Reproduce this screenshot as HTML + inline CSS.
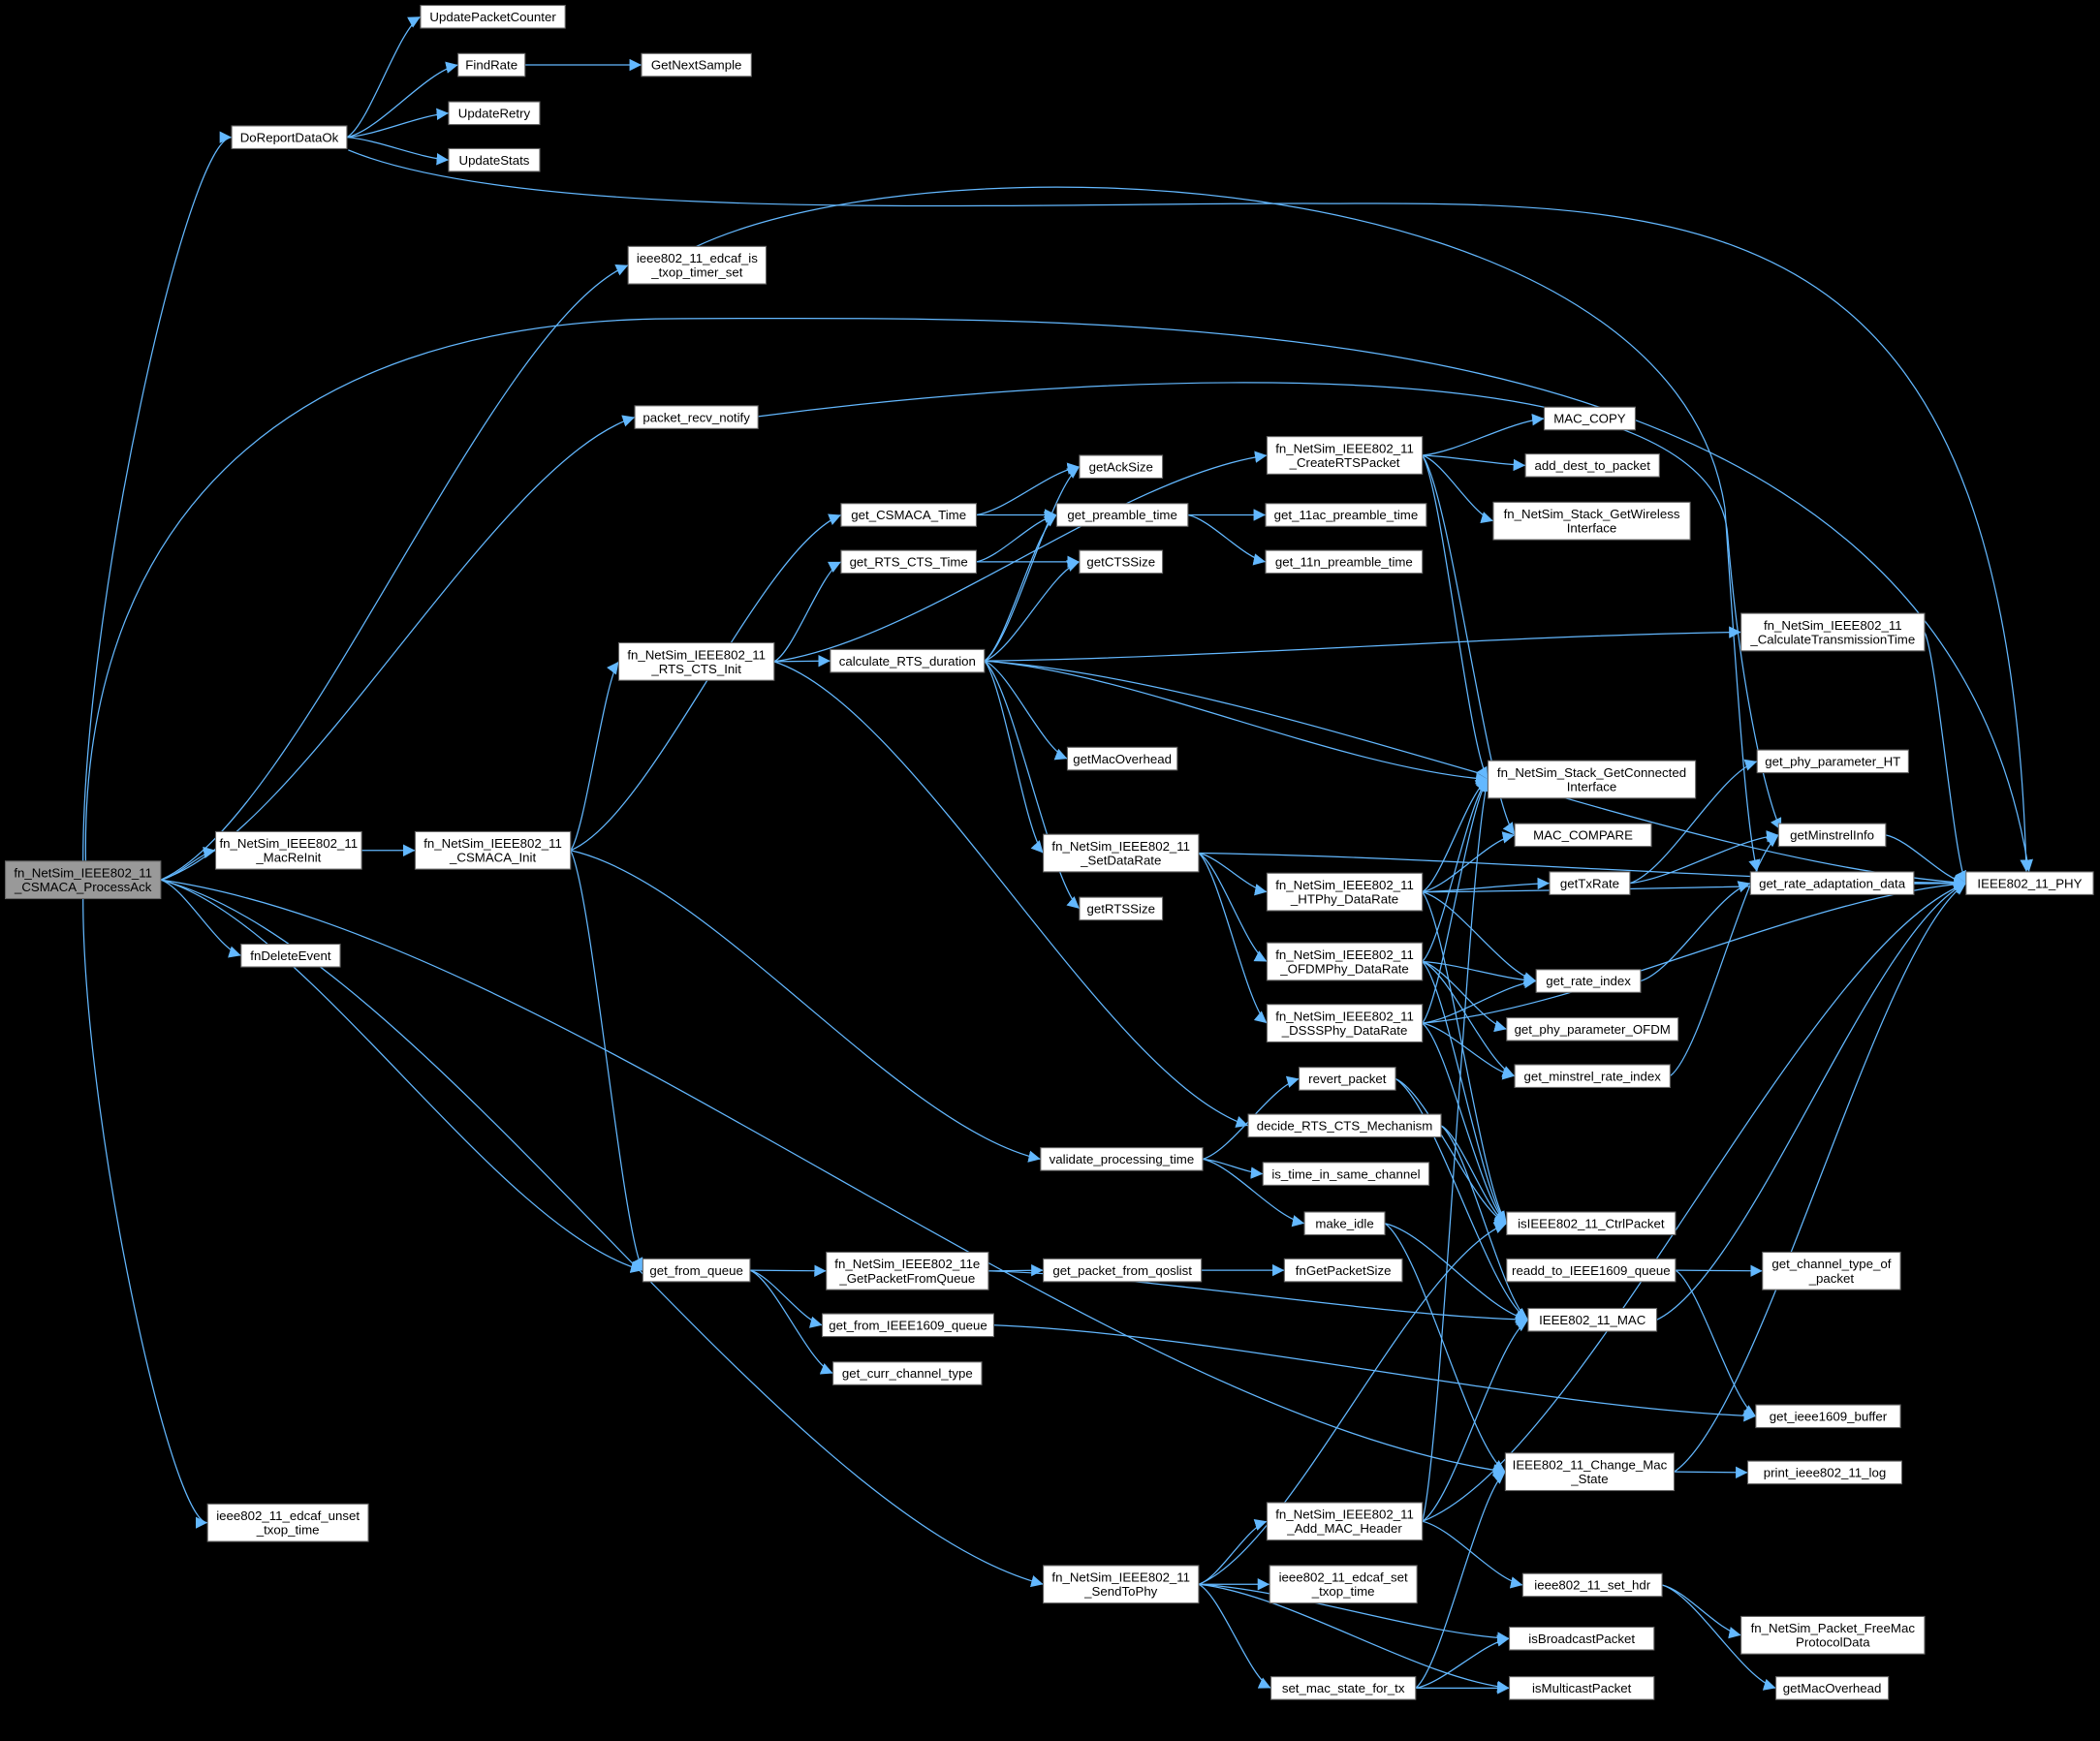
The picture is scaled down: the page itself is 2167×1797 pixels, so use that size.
<!DOCTYPE html>
<html><head><meta charset="utf-8"><style>
html,body{margin:0;padding:0;background:#000;width:2167px;height:1797px;overflow:hidden}
svg{display:block}
text{font-family:"Liberation Sans",sans-serif;font-size:9.6px;fill:#000;text-anchor:middle}
</style></head><body>
<svg id="g" width="2167" height="1797" viewBox="0 0 1568 1300" preserveAspectRatio="none" xmlns="http://www.w3.org/2000/svg">
<defs><marker id="a" viewBox="0 0 10 10" refX="10" refY="5" markerWidth="9" markerHeight="9" markerUnits="userSpaceOnUse" orient="auto"><path d="M0,0L10,5L0,10z" fill="#63b8ff"/></marker></defs>
<g id="E" fill="none" stroke="#63b8ff" stroke-width="0.9"></g>
<g id="N"></g>
</svg>
<script>
var N={
root:[4,643,116,28,"fn_NetSim_IEEE802_11|_CSMACA_ProcessAck",1],
upc:[314,4,108,17,"UpdatePacketCounter"],
fr:[342,40,50,17,"FindRate"],
gns:[479,40,82,17,"GetNextSample"],
dro:[173,94,86,17,"DoReportDataOk"],
ur:[335,76,68,17,"UpdateRetry"],
us:[335,111,68,17,"UpdateStats"],
eis:[469,184,103,28,"ieee802_11_edcaf_is|_txop_timer_set"],
prn:[474,303,92,17,"packet_recv_notify"],
crts:[946,326,116,28,"fn_NetSim_IEEE802_11|_CreateRTSPacket"],
mcp:[1153,304,68,17,"MAC_COPY"],
adp:[1139,339,100,17,"add_dest_to_packet"],
gwi:[1115,375,147,28,"fn_NetSim_Stack_GetWireless|Interface"],
ack:[806,340,62,17,"getAckSize"],
gct:[628,376,101,17,"get_CSMACA_Time"],
gpt:[789,376,98,17,"get_preamble_time"],
p11ac:[945,376,120,17,"get_11ac_preamble_time"],
grct:[628,411,101,17,"get_RTS_CTS_Time"],
cts:[806,411,62,17,"getCTSSize"],
p11n:[945,411,117,17,"get_11n_preamble_time"],
rci:[462,480,116,28,"fn_NetSim_IEEE802_11|_RTS_CTS_Init"],
crd:[620,485,115,17,"calculate_RTS_duration"],
ctt:[1300,458,137,28,"fn_NetSim_IEEE802_11|_CalculateTransmissionTime"],
gmo:[797,558,82,17,"getMacOverhead"],
gci:[1111,568,155,28,"fn_NetSim_Stack_GetConnected|Interface"],
pht:[1312,560,113,17,"get_phy_parameter_HT"],
mcmp:[1131,615,102,17,"MAC_COMPARE"],
gmi:[1328,615,80,17,"getMinstrelInfo"],
phy:[1468,651,95,17,"IEEE802_11_PHY"],
mri:[161,621,109,28,"fn_NetSim_IEEE802_11|_MacReInit"],
ci:[310,621,116,28,"fn_NetSim_IEEE802_11|_CSMACA_Init"],
sdr:[779,623,116,28,"fn_NetSim_IEEE802_11|_SetDataRate"],
ht:[946,652,116,28,"fn_NetSim_IEEE802_11|_HTPhy_DataRate"],
gtr:[1157,651,60,17,"getTxRate"],
grad:[1307,651,122,17,"get_rate_adaptation_data"],
rts:[806,670,62,17,"getRTSSize"],
fde:[180,705,74,17,"fnDeleteEvent"],
ofdm:[946,704,116,28,"fn_NetSim_IEEE802_11|_OFDMPhy_DataRate"],
gri:[1147,724,78,17,"get_rate_index"],
dsss:[946,750,116,28,"fn_NetSim_IEEE802_11|_DSSSPhy_DataRate"],
pofdm:[1125,760,128,17,"get_phy_parameter_OFDM"],
gmri:[1131,795,116,17,"get_minstrel_rate_index"],
rp:[970,797,72,17,"revert_packet"],
drc:[932,832,144,17,"decide_RTS_CTS_Mechanism"],
vpt:[777,857,121,17,"validate_processing_time"],
its:[943,868,124,17,"is_time_in_same_channel"],
mi:[974,905,60,17,"make_idle"],
ctrl:[1125,905,126,17,"isIEEE802_11_CtrlPacket"],
gfq:[480,940,80,17,"get_from_queue"],
gpq:[617,935,121,28,"fn_NetSim_IEEE802_11e|_GetPacketFromQueue"],
gpqs:[779,940,118,17,"get_packet_from_qoslist"],
fps:[959,940,88,17,"fnGetPacketSize"],
readd:[1125,940,126,17,"readd_to_IEEE1609_queue"],
gcto:[1316,935,103,28,"get_channel_type_of|_packet"],
mac:[1141,977,96,17,"IEEE802_11_MAC"],
gf16:[614,981,128,17,"get_from_IEEE1609_queue"],
gcc:[622,1017,111,17,"get_curr_channel_type"],
gib:[1311,1049,108,17,"get_ieee1609_buffer"],
cms:[1124,1085,126,28,"IEEE802_11_Change_Mac|_State"],
pl:[1305,1091,115,17,"print_ieee802_11_log"],
eun:[155,1123,120,28,"ieee802_11_edcaf_unset|_txop_time"],
amh:[946,1122,116,28,"fn_NetSim_IEEE802_11|_Add_MAC_Header"],
stp:[779,1169,116,28,"fn_NetSim_IEEE802_11|_SendToPhy"],
eset:[948,1169,110,28,"ieee802_11_edcaf_set|_txop_time"],
sh:[1137,1175,104,17,"ieee802_11_set_hdr"],
fpd:[1300,1207,137,28,"fn_NetSim_Packet_FreeMac|ProtocolData"],
ibp:[1127,1215,108,17,"isBroadcastPacket"],
smt:[949,1252,108,17,"set_mac_state_for_tx"],
imp:[1127,1252,108,17,"isMulticastPacket"],
gmo2:[1326,1252,84,17,"getMacOverhead"]
};
var E=[
"root dro","root eis","root prn","root mri","root fde","root gfq","root cms","root eun","root stp",
"dro upc","dro fr","dro ur","dro us","fr gns",
"mri ci","ci gct","ci rci","ci gfq","ci vpt",
"rci crts","rci grct","rci crd","rci drc",
"gct ack","gct gpt","grct gpt","grct cts","gpt p11ac","gpt p11n",
"crd ack","crd gpt","crd cts","crd phy","crd ctt","crd gmo","crd sdr","crd rts","crd gci",
"crts mcp","crts adp","crts gwi","crts gci","crts mcmp",
"ctt phy","sdr ht","sdr ofdm","sdr dsss","sdr phy",
"ht gci","ht mcmp","ht gtr","ht gri","ht phy","ht ctrl",
"gtr pht","gtr gmi","ofdm gri","ofdm pofdm","ofdm gci","ofdm gmri","ofdm ctrl",
"dsss gri","dsss gci","dsss gmri","dsss phy","dsss ctrl",
"gri grad","gmri gmi","gmi phy","grad phy",
"vpt rp","vpt its","vpt mi","rp ctrl","rp mac","drc ctrl","drc mac","mi mac","mi cms",
"gfq gpq","gfq gf16","gfq gcc","gpq gpqs","gpq mac","gpqs fps",
"readd gcto","readd gib","gf16 gib","cms pl","cms phy","mac phy",
"stp amh","stp eset","stp ibp","stp smt","stp imp","stp ctrl",
"amh sh","amh mac","amh phy","amh gci","sh fpd","sh gmo2",
"smt ibp","smt imp","smt cms"
];
var ns="http://www.w3.org/2000/svg",eg=document.getElementById("E"),ng=document.getElementById("N");
function add(d){var pa=document.createElementNS(ns,"path");pa.setAttribute("d",d);pa.setAttribute("marker-end","url(#a)");eg.appendChild(pa);}
E.forEach(function(s){var p=s.split(" "),a=N[p[0]],b=N[p[1]];
var x1=a[0]+a[2],y1=a[1]+a[3]/2,x2=b[0],y2=b[1]+b[3]/2,d;
var dx=x2-x1,dy=y2-y1;
if(p[0]=="root" && Math.abs(dy)>1.5*dx){
 x1=a[0]+a[2]/2; y1=dy<0?a[1]:a[1]+a[3]; dy=y2-y1; dx=x2-x1;
 d="M"+x1+","+y1+"C"+x1+","+(y1+dy*0.35)+" "+(x2-dx*0.3)+","+y2+" "+x2+","+y2;
}else if(dx>5){var c=dx*0.3;d="M"+x1+","+y1+"C"+(x1+c)+","+(y1+dy*0.1)+" "+(x2-c)+","+(y2-dy*0.1)+" "+x2+","+y2;}
else{x1=a[0]+a[2]/2;var up=b[1]<a[1];y1=up?a[1]:a[1]+a[3];x2=b[0]+b[2]/2;y2=up?b[1]+b[3]:b[1];d="M"+x1+","+y1+"C"+x1+","+(y1+y2)/2+" "+x2+","+(y1+y2)/2+" "+x2+","+y2;}
add(d);});
["M64,643C60,400 200,240 500,238C900,236 1450,230 1515,651",
 "M566,311C800,280 1280,250 1290,400C1300,520 1320,600 1330,620",
 "M260,112C400,170 800,150 1000,152C1300,150 1500,170 1513,651",
 "M520,184C700,100 1250,120 1288,380C1300,560 1305,620 1312,651"].forEach(add);
for(var k in N){var n=N[k];var r=document.createElementNS(ns,"rect");
r.setAttribute("x",n[0]);r.setAttribute("y",n[1]);r.setAttribute("width",n[2]);r.setAttribute("height",n[3]);
r.setAttribute("fill",n[5]?"#999":"#fff");r.setAttribute("stroke","#666");r.setAttribute("stroke-width","0.8");ng.appendChild(r);
var L=n[4].split("|");L.forEach(function(t,i){var tx=document.createElementNS(ns,"text");
tx.setAttribute("x",n[0]+n[2]/2);tx.setAttribute("y",n[1]+n[3]/2+3.4+(L.length>1?(i-0.5)*10.5:0));tx.textContent=t;ng.appendChild(tx);});}
</script>
</body></html>
